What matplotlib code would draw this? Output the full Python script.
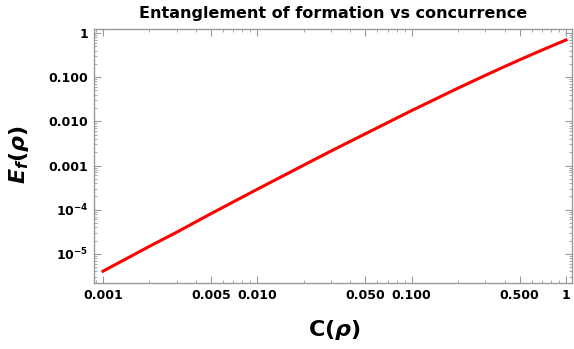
import numpy as np
import matplotlib
matplotlib.use("Agg")
import matplotlib.pyplot as plt
from matplotlib.ticker import FixedLocator, FixedFormatter, LogLocator, NullFormatter

# values
conc = [0.001, 0.002, 0.003, 0.005, 0.01, 0.02, 0.03, 0.05, 0.1, 0.2, 0.3,
        0.4, 0.5, 0.6, 0.7, 0.8, 0.9, 1.0]
ef = [4.05e-6, 1.48e-5, 3.08e-5, 8.1e-5, 2.9e-4, 1.02e-3, 2.12e-3, 5.2e-3,
      0.0175, 0.0565, 0.1096, 0.1734, 0.2458, 0.3251, 0.4102, 0.5004, 0.5949, 0.6931]

xticks = [0.001, 0.005, 0.01, 0.05, 0.1, 0.5, 1]
xlabels = ["0.001", "0.005", "0.010", "0.050", "0.100", "0.500", "1"]
yticks = [1e-5, 1e-4, 1e-3, 1e-2, 1e-1, 1]
ylabels = [r"$10^{-5}$", r"$10^{-4}$", "0.001", "0.010", "0.100", "1"]

plt.rcParams["font.family"] = "DejaVu Sans"
plt.rcParams["font.weight"] = "bold"
plt.rcParams["mathtext.fontset"] = "custom"
plt.rcParams["mathtext.rm"] = "DejaVu Sans:bold"
plt.rcParams["mathtext.it"] = "DejaVu Sans:bold:italic"
plt.rcParams["mathtext.bf"] = "DejaVu Sans:bold"

fig = plt.figure(figsize=(5.74, 3.49), dpi=100)
ax = fig.add_axes([0.1638, 0.1891, 0.8327, 0.7278])

ax.plot(conc, ef, color="#ff0000", lw=2.2)
ax.set_xscale("log")
ax.set_yscale("log")
ax.set_xlim(8.75e-4, 1.094)
ax.set_ylim(2.19e-6, 1.23)

ax.xaxis.set_major_locator(FixedLocator(xticks))
ax.xaxis.set_major_formatter(FixedFormatter(xlabels))
ax.xaxis.set_minor_locator(LogLocator(base=10, subs=np.arange(1, 10), numticks=20))
ax.xaxis.set_minor_formatter(NullFormatter())
ax.yaxis.set_major_locator(FixedLocator(yticks))
ax.yaxis.set_major_formatter(FixedFormatter(ylabels))
ax.yaxis.set_minor_locator(LogLocator(base=10, subs=np.arange(2, 10), numticks=20))
ax.yaxis.set_minor_formatter(NullFormatter())

for s in ax.spines.values():
    s.set_color("#999999")
    s.set_linewidth(1.0)
ax.tick_params(which="both", direction="in", top=True, right=True, color="#999999",
               labelsize=9, labelcolor="black", pad=4)
ax.tick_params(which="major", length=5, width=0.8)
ax.tick_params(which="minor", length=2.5, width=0.6)
for lab in ax.get_xticklabels() + ax.get_yticklabels():
    lab.set_fontweight("bold")

ax.set_title("Entanglement of formation vs concurrence", fontsize=11.5,
             fontweight="bold", pad=8)
ax.set_xlabel(r"$\mathrm{C}(\rho)$", fontsize=16, va="center")
ax.set_ylabel(r"$E_f(\rho)$", fontsize=16, va="center")
ax.xaxis.set_label_coords(0.503, -0.185)
ax.yaxis.set_label_coords(-0.157, 0.504)

fig.savefig("out.png", dpi=100)
